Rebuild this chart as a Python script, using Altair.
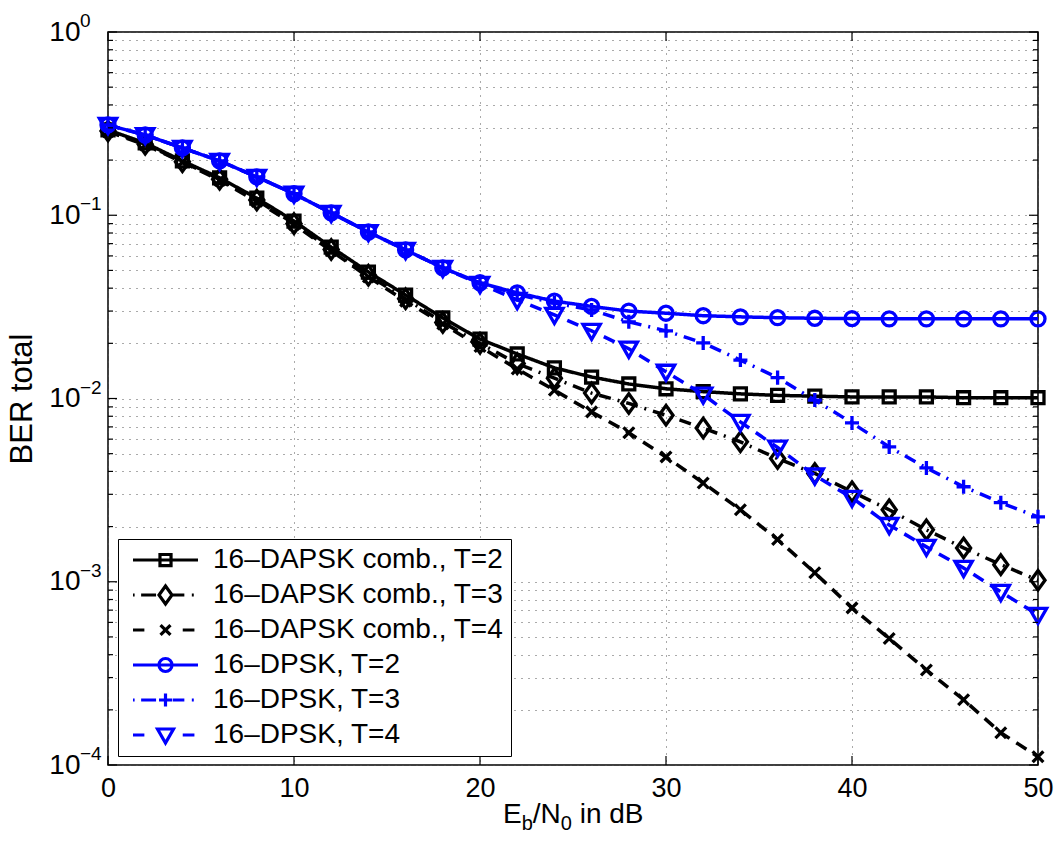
import altair as alt
import pandas as pd

FONT = "Liberation Sans"

ebn0 = [0, 2, 4, 6, 8, 10, 12, 14, 16, 18, 20, 22, 24, 26, 28, 30, 32, 34, 36, 38, 40, 42, 44, 46, 48, 50]

series_names = [
    "16–DAPSK comb., T=2",
    "16–DAPSK comb., T=3",
    "16–DAPSK comb., T=4",
    "16–DPSK, T=2",
    "16–DPSK, T=3",
    "16–DPSK, T=4",
]

ber_dapsk_t2 = [0.292, 0.248, 0.198, 0.160, 0.124, 0.093, 0.067, 0.049, 0.0367, 0.0275, 0.0211, 0.0175, 0.0147,
                0.0131, 0.0120, 0.0113, 0.0109, 0.0106, 0.0104, 0.0103, 0.0102, 0.0102, 0.0102, 0.0101, 0.0101, 0.0101]
ber_dapsk_t3 = [0.288, 0.244, 0.196, 0.157, 0.121, 0.090, 0.065, 0.047, 0.035, 0.026, 0.0200, 0.0155, 0.0129,
                0.0107, 0.0094, 0.0081, 0.0069, 0.0058, 0.0047, 0.0039, 0.0031, 0.00247, 0.00192, 0.00153, 0.00124, 0.00102]
ber_dapsk_t4 = [0.286, 0.242, 0.195, 0.155, 0.119, 0.089, 0.064, 0.046, 0.034, 0.0255, 0.0192, 0.0145, 0.0111,
                0.00845, 0.0065, 0.0048, 0.00346, 0.00247, 0.0017, 0.00112, 0.00072, 0.00049, 0.00033, 0.000227, 0.00015, 0.000111]
ber_dpsk_t2 = [0.311, 0.274, 0.233, 0.198, 0.162, 0.131, 0.103, 0.081, 0.0647, 0.0516, 0.0428, 0.0377, 0.0340,
               0.0318, 0.0300, 0.0292, 0.0283, 0.0279, 0.0276, 0.0274, 0.0273, 0.0272, 0.0272, 0.0272, 0.0272, 0.0272]
ber_dpsk_t3 = [0.311, 0.274, 0.233, 0.198, 0.162, 0.131, 0.103, 0.081, 0.0647, 0.0516, 0.0426, 0.0370, 0.0332,
               0.0304, 0.0262, 0.0234, 0.0201, 0.0162, 0.0130, 0.0098, 0.00736, 0.00544, 0.00418, 0.0033, 0.0027, 0.00226]
ber_dpsk_t4 = [0.311, 0.274, 0.233, 0.198, 0.162, 0.131, 0.103, 0.081, 0.0647, 0.0516, 0.0422, 0.0345, 0.0286,
               0.0234, 0.0187, 0.0140, 0.0105, 0.00745, 0.0054, 0.0038, 0.00287, 0.00204, 0.00155, 0.00119, 0.00088, 0.00066]

all_series = [ber_dapsk_t2, ber_dapsk_t3, ber_dapsk_t4, ber_dpsk_t2, ber_dpsk_t3, ber_dpsk_t4]

x_ticks = [0, 10, 20, 30, 40, 50]
y_major = [1, 0.1, 0.01, 0.001, 0.0001]
y_minor = [m * 10.0 ** e for e in (-4, -3, -2, -1) for m in (2, 3, 4, 5, 6, 7, 8, 9)]
y_exponents = ["0", "−1", "−2", "−3", "−4"]

# styles
colors = ["#000000", "#000000", "#000000", "#0000ff", "#0000ff", "#0000ff"]
dashes = [[1, 0], [12, 7, 2, 7], [12, 8], [1, 0], [12, 7, 2, 7], [12, 8]]

m_square = "M-0.69,-0.69H0.69V0.69H-0.69Z"
m_diamond = "M0,-1.12L0.81,0L0,1.12L-0.81,0Z"
m_x = "M-0.62,-0.62L0.62,0.62M-0.62,0.62L0.62,-0.62"
m_circle = "M0.81,0A0.81,0.81,0,1,1,-0.81,0A0.81,0.81,0,1,1,0.81,0Z"
m_plus = "M-0.81,0H0.81M0,-0.81V0.81"
m_tri = "M-1,-0.75H1L0,1Z"
markers = [m_square, m_diamond, m_x, m_circle, m_plus, m_tri]

ln_solid = "M-1,0H1"
ln_dashdot = "M-1,0H-0.95M-0.75,0H-0.29M0.22,0H0.58M0.81,0H0.87"
ln_dash = "M-1,0H-0.65M0.53,0H0.89"
legend_paths = [
    ln_solid + "M-0.17,-0.17H0.17V0.17H-0.17Z",
    ln_dashdot + "M0,-0.276L0.2,0L0,0.276L-0.2,0Z",
    ln_dash + "M-0.153,-0.153L0.153,0.153M-0.153,0.153L0.153,-0.153",
    ln_solid + "M0.2,0A0.2,0.2,0,1,1,-0.2,0A0.2,0.2,0,1,1,0.2,0Z",
    ln_dashdot + "M-0.2,0H0.2M0,-0.2V0.2",
    ln_dash + "M-0.246,-0.185H0.246L0,0.246Z",
]

rows = []
for name, vals in zip(series_names, all_series):
    for x, v in zip(ebn0, vals):
        rows.append({"ebn0": x, "ber": v, "series": name})
df = pd.DataFrame(rows)

W, H = 930, 733

xscale = alt.Scale(domain=[0, 50], nice=False, zero=False)
yscale = alt.Scale(type="log", domain=[0.0001, 1], nice=False)

xaxis = alt.Axis(values=x_ticks, title=None, grid=True, gridDash=[1, 6], gridColor="#555555",
                 gridWidth=1, domain=False, ticks=False, labelFontSize=27, labelFont=FONT,
                 labelColor="black", labelPadding=10, labelFlush=False, labelOverlap=False)
yaxis = alt.Axis(values=y_major + y_minor, title="BER total", titleFont=FONT, titleFontSize=31,
                 titleFontWeight="normal", titleColor="black", titleX=-86, titleY=H / 2,
                 titleAngle=270, titleBaseline="middle", titleAlign="center",
                 grid=True, gridDash=[1, 6], gridColor="#555555", gridWidth=1, domain=False,
                 ticks=False, labelFontSize=28, labelFont=FONT, labelColor="black",
                 labelPadding=28, labelOverlap=False, labelFlush=False, labelBaseline="middle",
                 labelExpr="abs(log(datum.value)/LN10 - round(log(datum.value)/LN10)) < 0.001 ? '10' : ''")

base = alt.Chart(df)

series_layers = []
for i, (name, col, dash, mk) in enumerate(zip(series_names, colors, dashes, markers)):
    sub = base.transform_filter(alt.datum.series == name)
    if i == 0:
        xenc = alt.X("ebn0:Q", scale=xscale, axis=xaxis)
        yenc = alt.Y("ber:Q", scale=yscale, axis=yaxis)
    else:
        xenc = alt.X("ebn0:Q", scale=xscale)
        yenc = alt.Y("ber:Q", scale=yscale)
    series_layers.append(
        sub.mark_line(color=col, strokeDash=dash, strokeWidth=3.5).encode(x=xenc, y=yenc))
    series_layers.append(
        sub.mark_point(filled=False, size=300, strokeWidth=3.3, opacity=1, shape=mk, color=col)
        .encode(x=alt.X("ebn0:Q", scale=xscale), y=alt.Y("ber:Q", scale=yscale)))

leg = alt.Legend(title=None, orient="none", legendX=10, legendY=507, direction="vertical",
                 symbolSize=4225, symbolStrokeWidth=3.2, clipHeight=28, rowPadding=7, padding=7,
                 symbolOffset=6, labelOffset=13, labelFontSize=28, labelFont=FONT,
                 labelColor="black", labelLimit=600, fillColor="white", strokeColor="black")

legend_layer = base.mark_point(filled=False, strokeWidth=3.2, opacity=1).encode(
    x=alt.X("ebn0:Q", scale=xscale),
    y=alt.Y("ber:Q", scale=yscale),
    shape=alt.Shape("series:N", scale=alt.Scale(domain=series_names, range=legend_paths), legend=leg),
    stroke=alt.Stroke("series:N", scale=alt.Scale(domain=series_names, range=colors), legend=leg),
).transform_filter("false")

# inward tick marks (box style)
maj_df = pd.DataFrame({"ber": y_major})
min_df = pd.DataFrame({"ber": y_minor})
xt_df = pd.DataFrame({"ebn0": x_ticks})

def yrule(d, x1, x2):
    return alt.Chart(d).mark_rule(color="black", strokeWidth=1.2).encode(
        y=alt.Y("ber:Q", scale=yscale), x=alt.value(x1), x2=alt.value(x2))

def xrule(y1, y2):
    return alt.Chart(xt_df).mark_rule(color="black", strokeWidth=1.2).encode(
        x=alt.X("ebn0:Q", scale=xscale), y=alt.value(y1), y2=alt.value(y2))

ticks = [yrule(maj_df, 0, 9), yrule(maj_df, W - 9, W), yrule(min_df, 0, 5), yrule(min_df, W - 5, W),
         xrule(H - 9, H), xrule(0, 9)]

exp_df = pd.DataFrame({"ber": y_major, "exp": y_exponents})
exps = alt.Chart(exp_df).mark_text(align="left", baseline="middle", dy=-11, fontSize=19, font=FONT,
                                   color="black").encode(
    y=alt.Y("ber:Q", scale=yscale), x=alt.value(-28), text="exp:N")

# x-axis title with subscripts: E_b/N_0 in dB
title_parts = ["E", "b", "/N", "0", "in dB"]
title_sizes = [28, 20, 28, 20, 28]
title_x = [395, 413.7, 424.8, 452.8, 471.7]
title_dy = [0, 7, 0, 7, 0]
title_layers = []
for t, fs, px, dy in zip(title_parts, title_sizes, title_x, title_dy):
    title_layers.append(
        alt.Chart(pd.DataFrame({"t": [t]})).mark_text(align="left", baseline="alphabetic", fontSize=fs,
                                                      font=FONT, color="black").encode(
            text="t:N", x=alt.value(px), y=alt.value(791 + dy)))

chart = alt.layer(*series_layers, *ticks, exps, *title_layers, legend_layer).properties(
    width=W, height=H,
    autosize=alt.AutoSizeParams(type="none"),
    padding={"left": 108, "top": 32, "right": 25, "bottom": 83},
    background="white",
).configure_view(stroke="black", strokeWidth=1.5)

chart.save("out.html", embed_options={"renderer": "svg", "actions": False})
